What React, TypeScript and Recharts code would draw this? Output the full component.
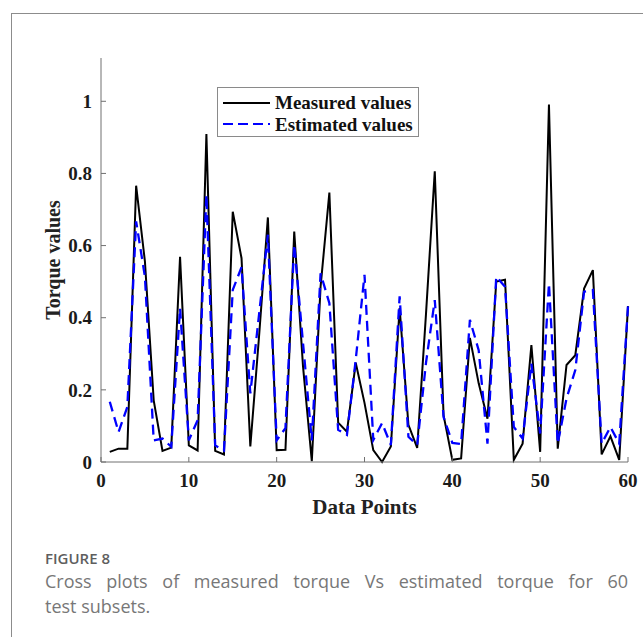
import React from 'react';
import { LineChart, Line, XAxis, YAxis, Legend } from 'recharts';

const dataPoints = [
  1, 2, 3, 4, 5, 6, 7, 8, 9, 10,
  11, 12, 13, 14, 15, 16, 17, 18, 19, 20,
  21, 22, 23, 24, 25, 26, 27, 28, 29, 30,
  31, 32, 33, 34, 35, 36, 37, 38, 39, 40,
  41, 42, 43, 44, 45, 46, 47, 48, 49, 50,
  51, 52, 53, 54, 55, 56, 57, 58, 59, 60,
];

const measured = [
  0.028, 0.037, 0.037, 0.766, 0.556, 0.171, 0.031, 0.04, 0.569, 0.046,
  0.032, 0.909, 0.031, 0.021, 0.694, 0.565, 0.043, 0.35, 0.678, 0.033,
  0.034, 0.639, 0.265, 0.002, 0.486, 0.747, 0.109, 0.084, 0.275, 0.164,
  0.033, 0.0, 0.043, 0.427, 0.103, 0.039, 0.41, 0.806, 0.13, 0.006,
  0.01, 0.344, 0.218, 0.12, 0.5, 0.505, 0.006, 0.051, 0.324, 0.028,
  0.991, 0.037, 0.269, 0.296, 0.481, 0.532, 0.021, 0.071, 0.006, 0.432,
];

const estimated = [
  0.167, 0.083, 0.153, 0.667, 0.514, 0.06, 0.065, 0.042, 0.426, 0.06,
  0.116, 0.741, 0.046, 0.032, 0.477, 0.54, 0.19, 0.41, 0.63, 0.06,
  0.094, 0.603, 0.33, 0.06, 0.523, 0.44, 0.089, 0.075, 0.283, 0.519,
  0.061, 0.108, 0.047, 0.459, 0.07, 0.047, 0.275, 0.449, 0.125, 0.053,
  0.05, 0.394, 0.31, 0.051, 0.514, 0.486, 0.097, 0.065, 0.273, 0.079,
  0.495, 0.051, 0.176, 0.255, 0.472, 0.477, 0.051, 0.097, 0.051, 0.432,
];

const xTicks = [0, 10, 20, 30, 40, 50, 60];
const yTicks = [0, 0.2, 0.4, 0.6, 0.8, 1];

const seriesNames = ['Measured values', 'Estimated values'];
const xLabel = 'Data Points';
const yLabel = 'Torque values';
const captionTitle = 'FIGURE 8';
const captionLines = ['Cross plots of measured torque Vs estimated torque for 60', 'test subsets.'];

const data = dataPoints.map((x, i) => ({ x, measured: measured[i], estimated: estimated[i] }));

const serif = '"Liberation Serif", "Times New Roman", serif';
const axisColor = '#707070';
const textColor = '#1a1a1a';

const tickStyle = { fontFamily: serif, fontWeight: 'bold' as const, fontSize: 19, fill: textColor };

const renderLegend = () => (
  <div
    style={{
      width: 202,
      height: 50,
      boxSizing: 'border-box',
      border: '1px solid #8a8a8a',
      background: '#fff',
      paddingTop: 4,
      fontFamily: serif,
      fontWeight: 'bold',
      fontSize: 19,
      color: '#111',
    }}
  >
    {seriesNames.map((name, i) => (
      <div key={name} style={{ display: 'flex', alignItems: 'center', height: 21.5, lineHeight: '21.5px' }}>
        <svg width={47} height={10} style={{ marginLeft: 5, marginRight: 5, flex: 'none' }}>
          <line
            x1={0}
            y1={5}
            x2={47}
            y2={5}
            stroke={i === 0 ? '#000' : '#0000ff'}
            strokeWidth={2}
            strokeDasharray={i === 0 ? undefined : '10 5'}
          />
        </svg>
        <span style={{ whiteSpace: 'nowrap' }}>{name}</span>
      </div>
    ))}
  </div>
);

export default function App() {
  return (
    <div style={{ position: 'absolute', left: 0, top: 0, width: 643, height: 637, background: '#fff', overflow: 'hidden' }}>
      <div
        style={{
          position: 'absolute',
          left: 11,
          top: 13,
          width: 700,
          height: 700,
          borderLeft: '1px solid #8c8c8c',
          borderTop: '1px solid #8c8c8c',
        }}
      />
      <div style={{ position: 'absolute', left: 0, top: 0 }}>
        <LineChart width={643} height={530} data={data} margin={{ top: 58, right: 15, bottom: 8, left: 0 }}>
          <XAxis
            dataKey="x"
            type="number"
            domain={[0, 60]}
            ticks={xTicks}
            interval={0}
            height={60}
            tickSize={-5}
            tickMargin={17}
            stroke={axisColor}
            tick={tickStyle}
            label={{
              value: xLabel,
              position: 'insideBottom',
              offset: 8,
              style: { fontFamily: serif, fontWeight: 'bold', fontSize: 21, fill: '#222', textAnchor: 'middle' },
            }}
          />
          <YAxis
            type="number"
            domain={[0, 1.12]}
            ticks={yTicks}
            interval={0}
            width={101}
            tickSize={-5}
            tickMargin={14}
            stroke={axisColor}
            tick={tickStyle}
            label={{
              value: yLabel,
              angle: -90,
              position: 'insideLeft',
              offset: 53,
              style: { fontFamily: serif, fontWeight: 'bold', fontSize: 20, fill: '#222', textAnchor: 'middle' },
            }}
          />
          <Legend
            layout="vertical"
            align="center"
            verticalAlign="middle"
            content={renderLegend}
            wrapperStyle={{ left: 217, top: 87, width: 202, height: 50 }}
          />
          <Line
            type="linear"
            dataKey="measured"
            name={seriesNames[0]}
            stroke="#000000"
            strokeWidth={2}
            dot={false}
            isAnimationActive={false}
          />
          <Line
            type="linear"
            dataKey="estimated"
            name={seriesNames[1]}
            stroke="#0000ff"
            strokeWidth={2.3}
            strokeDasharray="10 6"
            dot={false}
            isAnimationActive={false}
          />
        </LineChart>
      </div>
      <div
        style={{
          position: 'absolute',
          left: 45,
          top: 548,
          width: 583,
          fontFamily: '"Open Sans", sans-serif',
        }}
      >
        <div style={{ fontSize: 15, fontWeight: 600, color: '#5e5e5e', lineHeight: '20px' }}>{captionTitle}</div>
        <div style={{ fontSize: 18, color: '#777', lineHeight: '25px', marginTop: 0.5 }}>
          <div style={{ textAlign: 'justify', textAlignLast: 'justify', whiteSpace: 'nowrap' as const }}>
            {captionLines[0]}
          </div>
          <div>{captionLines[1]}</div>
        </div>
      </div>
    </div>
  );
}
